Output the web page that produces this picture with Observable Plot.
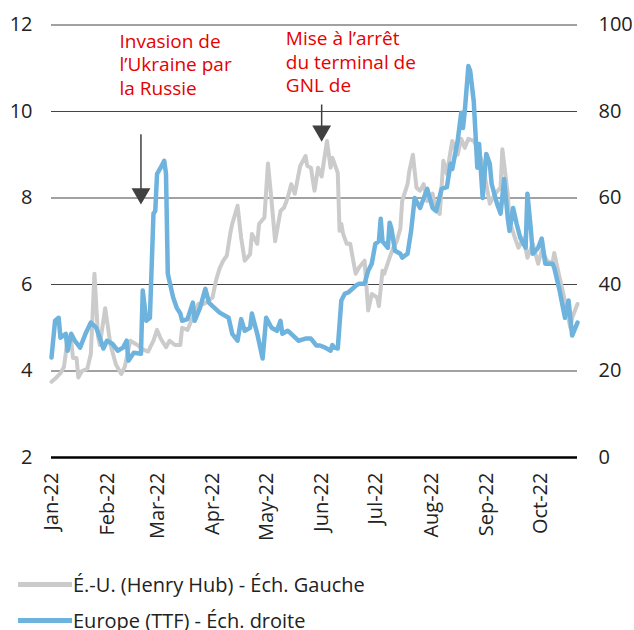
<!DOCTYPE html>
<html>
<head>
<meta charset="utf-8">
<script src="https://cdn.jsdelivr.net/npm/d3@7"></script>
<script src="https://cdn.jsdelivr.net/npm/@observablehq/plot@0.6"></script>
<style>
  html, body { margin: 0; padding: 0; background: #fff; }
  body { width: 634px; height: 630px; overflow: hidden; font-family: "Open Sans", sans-serif; }
  #legend { position: absolute; left: 0; top: 566px; color: #222; font-size: 20px; }
  .row { display: flex; align-items: center; height: 36px; }
  .sw { width: 54px; height: 5px; margin-left: 18px; margin-right: 1px; }
</style>
</head>
<body>
<div id="chart"></div>
<div id="legend"></div>
<script>
// Henry Hub (USD/MMBtu, left scale)
const henryHub = [
["2022-01-03",3.75],["2022-01-05",3.82],["2022-01-08",3.95],["2022-01-10",4.1],["2022-01-12",4.75],
["2022-01-14",4.7],["2022-01-15",4.3],["2022-01-17",4.3],["2022-01-18",3.85],["2022-01-20",4.0],
["2022-01-23",4.05],["2022-01-25",4.4],["2022-01-27",6.25],["2022-01-29",4.8],["2022-01-30",4.6],
["2022-02-02",5.45],["2022-02-05",4.6],["2022-02-08",4.15],["2022-02-11",3.93],["2022-02-13",4.1],
["2022-02-16",4.7],["2022-02-20",4.6],["2022-02-23",4.5],["2022-02-26",4.45],["2022-03-01",4.7],
["2022-03-03",4.95],["2022-03-05",4.75],["2022-03-08",4.55],["2022-03-10",4.7],["2022-03-13",4.6],
["2022-03-16",4.6],["2022-03-17",5.0],["2022-03-20",4.95],["2022-03-23",5.25],["2022-03-26",5.55],
["2022-03-29",5.55],["2022-03-31",5.6],["2022-04-03",5.7],["2022-04-05",6.1],["2022-04-07",6.38],
["2022-04-09",6.55],["2022-04-11",6.67],["2022-04-13",7.2],["2022-04-14",7.4],["2022-04-17",7.82],
["2022-04-19",7.08],["2022-04-21",6.55],["2022-04-24",6.7],["2022-04-25",7.17],["2022-04-28",6.94],
["2022-04-29",7.4],["2022-05-02",7.55],["2022-05-04",8.8],["2022-05-06",7.93],["2022-05-08",7.0],
["2022-05-11",7.7],["2022-05-13",7.78],["2022-05-15",8.0],["2022-05-17",8.32],["2022-05-19",8.1],
["2022-05-22",8.74],["2022-05-25",8.97],["2022-05-26",8.74],["2022-05-28",8.7],["2022-05-30",8.17],
["2022-06-01",8.7],["2022-06-03",8.5],["2022-06-06",9.32],["2022-06-08",8.7],["2022-06-09",8.93],
["2022-06-12",8.58],["2022-06-13",7.24],["2022-06-14",7.4],["2022-06-15",7.17],["2022-06-17",6.94],
["2022-06-19",6.94],["2022-06-20",6.7],["2022-06-22",6.25],["2022-06-24",6.4],["2022-06-27",6.55],
["2022-06-29",5.4],["2022-07-01",5.78],["2022-07-04",5.7],["2022-07-05",5.5],["2022-07-07",6.32],
["2022-07-08",6.25],["2022-07-11",6.62],["2022-07-13",6.85],["2022-07-15",7.0],["2022-07-17",7.3],
["2022-07-18",7.93],["2022-07-21",8.32],["2022-07-22",8.62],["2022-07-24",9.0],["2022-07-26",8.24],
["2022-07-28",8.17],["2022-07-30",8.32],["2022-08-01",7.93],["2022-08-04",8.1],["2022-08-06",7.7],
["2022-08-08",7.63],["2022-08-10",8.86],["2022-08-12",8.56],["2022-08-15",9.32],["2022-08-18",9.0],
["2022-08-20",9.37],["2022-08-22",9.16],["2022-08-24",9.37],["2022-08-27",9.32],["2022-08-29",9.16],
["2022-09-01",8.79],["2022-09-03",8.32],["2022-09-05",7.87],["2022-09-08",8.1],["2022-09-11",8.24],
["2022-09-12",9.13],["2022-09-15",8.1],["2022-09-16",7.47],["2022-09-19",7.08],["2022-09-21",6.85],
["2022-09-24",7.08],["2022-09-26",6.62],["2022-09-29",6.94],["2022-10-02",6.48],["2022-10-04",6.78],
["2022-10-07",6.55],["2022-10-10",6.48],["2022-10-11",6.73],["2022-10-14",6.16],["2022-10-17",5.62],
["2022-10-20",5.0],["2022-10-21",5.23],["2022-10-24",5.55]
];

// Europe TTF (USD/MMBtu, right scale)
const ttf = [
["2022-01-03",23.1],["2022-01-05",31.6],["2022-01-07",32.3],["2022-01-08",27.7],["2022-01-11",28.6],
["2022-01-12",24.7],["2022-01-14",28.6],["2022-01-16",27],["2022-01-19",25.4],["2022-01-22",28.6],
["2022-01-25",31.2],["2022-01-28",30],["2022-01-30",27.7],["2022-02-01",25.2],["2022-02-03",27],
["2022-02-06",26.3],["2022-02-09",24.7],["2022-02-12",25.4],["2022-02-14",27],["2022-02-15",22.4],
["2022-02-18",24.2],["2022-02-22",24],["2022-02-23",38.6],["2022-02-25",31.6],["2022-02-27",32.3],
["2022-03-01",56.4],["2022-03-02",57],["2022-03-03",65.6],["2022-03-05",67],["2022-03-07",68.6],
["2022-03-08",65.6],["2022-03-09",42.5],["2022-03-12",37],["2022-03-14",34.6],["2022-03-16",33.3],
["2022-03-17",31.6],["2022-03-20",32],["2022-03-23",35.8],["2022-03-24",31.6],["2022-03-27",34.6],
["2022-03-30",39],["2022-04-01",35.8],["2022-04-03",35],["2022-04-07",33.5],["2022-04-12",32.3],
["2022-04-14",28.6],["2022-04-17",27],["2022-04-19",32],["2022-04-21",29.3],["2022-04-24",30],
["2022-04-25",33.3],["2022-04-28",28.6],["2022-05-01",22.9],["2022-05-03",32.3],["2022-05-06",30],
["2022-05-09",29.3],["2022-05-11",31.6],["2022-05-12",28.6],["2022-05-15",29.3],["2022-05-17",28.6],
["2022-05-21",27],["2022-05-25",27.5],["2022-05-28",27.5],["2022-05-31",25.9],["2022-06-02",25.9],
["2022-06-05",25.4],["2022-06-08",24.7],["2022-06-09",26],["2022-06-10",25.4],["2022-06-12",25.2],
["2022-06-14",36.3],["2022-06-16",37.9],["2022-06-18",38.2],["2022-06-22",39.7],["2022-06-24",40.2],
["2022-06-27",40.2],["2022-06-29",43.2],["2022-07-01",44.8],["2022-07-03",49.4],["2022-07-05",50],
["2022-07-06",55.2],["2022-07-07",50],["2022-07-10",48.5],["2022-07-11",54.3],["2022-07-12",52.9],
["2022-07-14",47.8],["2022-07-17",47.1],["2022-07-18",46.2],["2022-07-21",47.1],["2022-07-23",52.4],
["2022-07-25",60],["2022-07-28",57.7],["2022-08-01",62.1],["2022-08-04",57.7],["2022-08-06",57],
["2022-08-09",62.1],["2022-08-12",62.5],["2022-08-14",67.9],["2022-08-15",66.7],["2022-08-18",73.2],
["2022-08-20",79.7],["2022-08-21",76.2],["2022-08-22",80.1],["2022-08-24",90.5],["2022-08-25",89.4],
["2022-08-27",82.4],["2022-08-28",74.8],["2022-08-29",67],["2022-08-30",72.5],["2022-09-01",60],
["2022-09-03",70.2],["2022-09-05",67.9],["2022-09-06",63.3],["2022-09-09",58.7],["2022-09-11",56.4],
["2022-09-13",64.4],["2022-09-15",55.4],["2022-09-16",52.4],["2022-09-18",57.7],["2022-09-20",54],
["2022-09-22",50.8],["2022-09-25",48.5],["2022-09-26",61],["2022-09-28",52.4],["2022-09-29",47.1],
["2022-10-02",48.5],["2022-10-04",50.6],["2022-10-06",44.8],["2022-10-10",44.8],["2022-10-11",43.9],
["2022-10-14",38.6],["2022-10-17",32.3],["2022-10-19",36.3],["2022-10-21",28.2],["2022-10-24",31.2]
];

const leftTicks = [2, 4, 6, 8, 10, 12];
const rightTickLabels = ["0", "20", "40", "60", "80", "100"];
const monthTicks = ["2022-01-01","2022-02-01","2022-03-01","2022-04-01","2022-05-01",
  "2022-06-01","2022-07-01","2022-08-01","2022-09-01","2022-10-01"];

const seriesNames = ["É.-U. (Henry Hub) - Éch. Gauche", "Europe (TTF) - Éch. droite"];
const seriesColors = ["#cbcbcb", "#6db3de"];

const annotations = [
  {date: "2022-02-10", y: 11.86, text: "Invasion de\nl’Ukraine par\nla Russie"},
  {date: "2022-05-14", y: 11.92, text: "Mise à l’arrêt\ndu terminal de\nGNL de"}
];
const arrows = [
  {date: "2022-02-22", from: 9.46, to: 8.1},
  {date: "2022-06-03", from: 10.15, to: 9.55}
];

const parse = d3.utcParse("%Y-%m-%d");
const hh = henryHub.map(([d, v]) => ({date: parse(d), y: v}));
// right scale (0–100) mapped onto left scale (2–12)
const eu = ttf.map(([d, v]) => ({date: parse(d), y: 2 + v / 10}));
const ann = annotations.map(a => ({...a, date: parse(a.date)}));
const arr = arrows.map(a => ({...a, date: parse(a.date)}));

const chart = Plot.plot({
  width: 634,
  height: 560,
  marginLeft: 51,
  marginRight: 57,
  marginTop: 24.5,
  marginBottom: 103,
  style: {fontFamily: "Open Sans, sans-serif", fontSize: "20px", color: "#222", background: "#fff"},
  x: {type: "utc", domain: [parse("2022-01-03"), parse("2022-10-24")]},
  y: {domain: [2, 12]},
  marks: [
    Plot.ruleY(leftTicks.filter(d => d > 2), {stroke: "#444", strokeWidth: 1.2}),
    Plot.ruleY([2], {stroke: "#000", strokeWidth: 2.6}),
    Plot.axisY({anchor: "left", ticks: leftTicks, tickSize: 0, tickPadding: 19, label: null, fontSize: 20}),
    Plot.axisY({anchor: "right", ticks: leftTicks, tickSize: 0, tickPadding: 21, label: null, fontSize: 20,
      tickFormat: d => rightTickLabels[leftTicks.indexOf(d)]}),
    Plot.axisX({ticks: monthTicks.map(parse), tickFormat: d3.utcFormat("%b-%y"), tickRotate: -90,
      tickSize: 0, tickPadding: 15, label: null, fontSize: 20, dx: 4}),
    Plot.line(hh, {x: "date", y: "y", stroke: seriesColors[0], strokeWidth: 4, strokeLinejoin: "round"}),
    Plot.line(eu, {x: "date", y: "y", stroke: seriesColors[1], strokeWidth: 4.5, strokeLinejoin: "round"}),
    Plot.ruleX(arr, {x: "date", y1: "from", y2: "to", stroke: "#404040", strokeWidth: 1.5}),
    Plot.dot(arr, {x: "date", y: "to", symbol: "triangle", rotate: 180, r: 7, fill: "#404040", stroke: null}),
    Plot.text(ann, {x: "date", y: "y", text: "text", textAnchor: "start", lineAnchor: "top",
      fill: "#e60000", fontSize: 19, lineHeight: 1.24})
  ]
});
document.getElementById("chart").appendChild(chart);

const legend = document.getElementById("legend");
seriesNames.forEach((name, i) => {
  const row = document.createElement("div");
  row.className = "row";
  const sw = document.createElement("span");
  sw.className = "sw";
  sw.style.background = seriesColors[i];
  const t = document.createElement("span");
  t.textContent = name;
  row.appendChild(sw);
  row.appendChild(t);
  legend.appendChild(row);
});
</script>
</body>
</html>
